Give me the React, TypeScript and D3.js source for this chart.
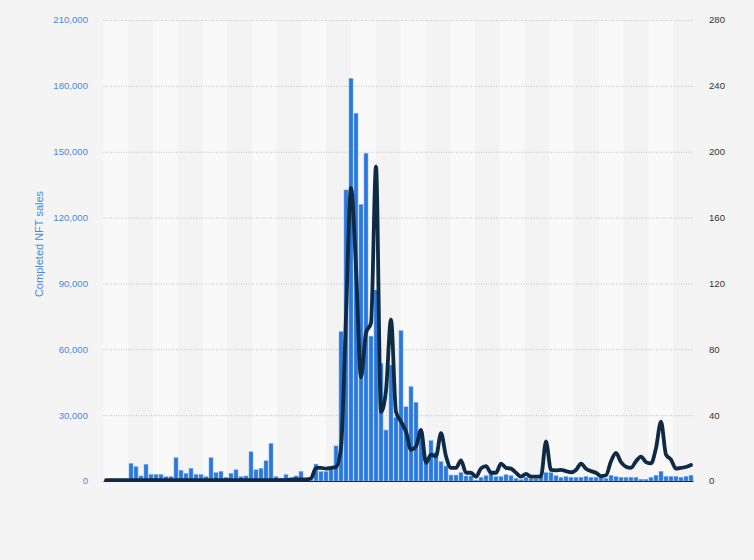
import React, { useEffect } from "react";
import * as d3 from "d3";

// Completed NFT sales per period (left axis)
const sales: number[] = [
  0, 0, 0, 0, 0,
  8000, 6500, 2300, 7600, 3000, 3000, 3000, 2000, 2000, 10600, 4900, 3500, 5800, 3000, 3000, 2000,
  10600, 3800, 4400, 1700, 3500, 5100, 2000, 2300, 13300, 5100, 5800, 9200, 17100, 2000, 1300, 2900, 300, 2300, 4400, 300, 300,
  7700, 4300, 4300, 5800, 16000, 68000, 132600, 183400, 167500, 126000, 149300, 66000, 87000, 53600, 23200, 52800, 29000, 68500, 33800, 43000, 35800,
  22000, 8000, 18400, 13000, 8800, 6800, 2700, 2700, 3800, 2300, 2300, 400, 1700, 2400, 3800, 2000, 2000, 2900, 2400, 1200, 600, 1700, 1000, 1000, 2000, 3800, 3800, 2400, 1700,
  2000, 1700, 1700, 1700, 2100, 1700, 1700, 1700, 1200, 2600, 2000, 1700, 1700, 1700, 1700, 800, 800, 1700, 2600, 4400, 2100, 2100, 2100, 1700, 2100, 2600,
];

// Second series (right axis)
const secondSeries: number[] = [
  0.5, 0.5, 0.5, 0.5, 0.5, 0.5, 0.5, 0.5, 0.5, 0.5, 0.5, 0.5, 0.5, 0.5, 0.5, 0.5, 0.5, 0.5, 0.5, 0.5,
  0.5, 0.5, 0.5, 0.5, 0.5, 0.5, 0.5, 0.5, 0.5, 0.5, 0.5, 0.5, 0.5, 0.5, 0.5, 0.5, 0.5,
  1, 1, 1, 1, 1.5,
  8, 8, 7.5, 8, 8.5, 20, 100, 178, 130, 63, 90, 96, 191, 42, 55, 98, 42, 36, 30, 19, 21,
  31, 11, 16, 15, 29, 15, 8, 8, 12.5, 5, 5, 2.6, 7.7, 9, 5, 5, 10.5, 8, 7.5, 5, 2.6, 4.3, 2.6, 2.6, 3, 24, 6.7, 6.5, 6.7,
  6, 5.3, 6.7, 10.5, 7.5, 6, 5, 3, 3.5, 12, 17, 11.5, 8.7, 8, 12, 14.8, 11.5, 10.7, 20, 36, 16, 13, 7.5, 8, 8.5, 9.7,
];

const leftTicks = [0, 30000, 60000, 90000, 120000, 150000, 180000, 210000];
const rightTicks = [0, 40, 80, 120, 160, 200, 240, 280];
const leftTitle = "Completed NFT sales";

const W = 754;
const H = 560;
const L = 103.5;
const R = 693.5;
const T = 20;
const B = 481;
const STRIPE = 24.77;
const FONT = "'Liberation Sans', Arial, Helvetica, sans-serif";

export default function App() {
  useEffect(() => {
    document.body.style.margin = "0";
  }, []);

  const idx = sales.map((_, i) => i);
  const x = d3.scaleBand<number>().domain(idx).range([L, R]).paddingInner(0.2).paddingOuter(0.1);
  const yL = d3.scaleLinear().domain([0, 210000]).range([B, T]);
  const yR = d3.scaleLinear().domain([0, 280]).range([B, T]);
  const bw = x.bandwidth();

  const line = d3
    .line<number>()
    .x((_, i) => (x(i) as number) + bw / 2)
    .y((v) => yR(v))
    .curve(d3.curveMonotoneX);

  const stripes = d3.range(Math.ceil((R - L) / STRIPE)).map((k) => {
    const x0 = L + k * STRIPE;
    const x1 = Math.min(R, x0 + STRIPE);
    return { x0, w: x1 - x0, k };
  });

  return (
    <svg width={W} height={H} style={{ display: "block", position: "absolute", left: 0, top: 0 }}>
      <rect x={0} y={0} width={W} height={H} fill="#f4f4f4" />
      {stripes.map((s) => (
        <rect key={s.k} x={s.x0} y={T} width={s.w} height={B - T} fill={s.k % 2 === 0 ? "#f9f9f9" : "#f3f3f3"} />
      ))}
      {leftTicks.filter((t) => t > 0).map((t) => (
        <line key={t} x1={L} x2={R} y1={yL(t) + 0.5} y2={yL(t) + 0.5} stroke="#c2c2c2" strokeWidth={1} strokeDasharray="1,1.5" />
      ))}
      {sales.map((v, i) => (
        <rect
          key={i}
          x={x(i)}
          y={yL(v)}
          width={bw}
          height={B - yL(v)}
          fill="#2a78dd"
          stroke="#7cb0ee"
          strokeWidth={0.5}
        />
      ))}
      <line x1={L} x2={R} y1={B + 0.5} y2={B + 0.5} stroke="#1c2733" strokeWidth={1} />
      <path
        d={line(secondSeries) || ""}
        fill="none"
        stroke="#0f2a44"
        strokeWidth={3.8}
        strokeLinejoin="round"
        strokeLinecap="round"
      />
      {leftTicks.map((t) => (
        <text
          key={t}
          x={88}
          y={yL(t)}
          dy="0.35em"
          textAnchor="end"
          fontFamily={FONT}
          fontSize={9.6}
          fill="#4a88da"
        >
          {d3.format(",")(t)}
        </text>
      ))}
      {rightTicks.map((t) => (
        <text
          key={t}
          x={709}
          y={yR(t)}
          dy="0.35em"
          textAnchor="start"
          fontFamily={FONT}
          fontSize={9.6}
          fill="#333333"
        >
          {t}
        </text>
      ))}
      <text
        transform={`translate(43, 244) rotate(-90)`}
        textAnchor="middle"
        fontFamily={FONT}
        fontSize={11}
        fill="#4a88da"
      >
        {leftTitle}
      </text>
    </svg>
  );
}
